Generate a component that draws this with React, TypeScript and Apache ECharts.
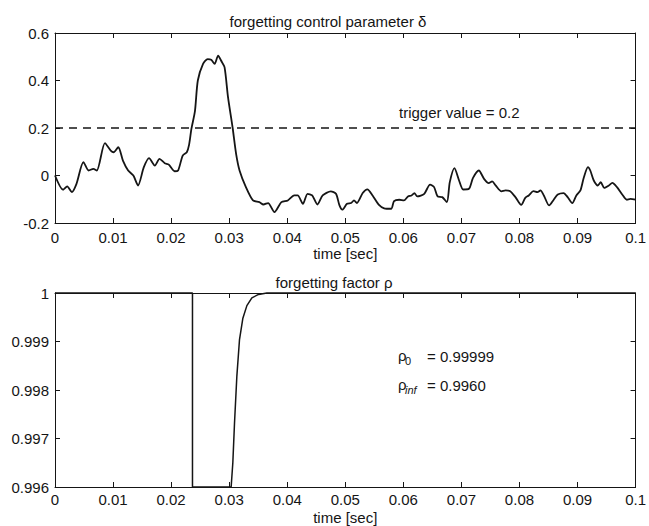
import React, { useEffect, useRef } from "react";
import * as echarts from "echarts";

// top panel: forgetting control parameter delta
const deltaT = [
  0, 0.0014, 0.0021, 0.0029, 0.0037, 0.0049, 0.0058, 0.0066, 0.0072, 0.0086, 0.0096, 0.0101, 0.0109,
  0.0117, 0.0126, 0.0135, 0.0143, 0.0153, 0.0162, 0.0172, 0.018, 0.0189, 0.0196, 0.0206, 0.0212,
  0.022, 0.0227, 0.0231, 0.0235, 0.0241, 0.0246, 0.0255, 0.0263, 0.0269, 0.0275, 0.0281, 0.0286,
  0.0292, 0.0298, 0.0306, 0.0312, 0.0318, 0.0329, 0.0341, 0.0352, 0.0359, 0.0367, 0.0378, 0.039,
  0.0401, 0.0412, 0.0418, 0.0427, 0.0435, 0.0443, 0.0452, 0.0461, 0.0475, 0.0484, 0.049, 0.0495,
  0.0503, 0.051, 0.0515, 0.052, 0.053, 0.0538, 0.0547, 0.0558, 0.0567, 0.0579, 0.0584, 0.0593,
  0.0601, 0.0608, 0.0614, 0.0619, 0.0624, 0.0636, 0.0646, 0.0653, 0.0659, 0.0667, 0.0675, 0.068,
  0.0688, 0.0696, 0.0703, 0.0713, 0.072, 0.073, 0.0739, 0.0747, 0.0753, 0.0759, 0.0769, 0.0776,
  0.0784, 0.0793, 0.0803, 0.081, 0.0816, 0.0824, 0.0831, 0.0836, 0.0842, 0.0851, 0.0859, 0.0866,
  0.0876, 0.0883, 0.0891, 0.0898, 0.0905, 0.0911, 0.0918, 0.0922, 0.0928, 0.0935, 0.094, 0.0946,
  0.0954, 0.096, 0.0968, 0.0977, 0.0985, 0.0991, 0.1,
];
const deltaV = [
  0.0, -0.06, -0.046, -0.07, -0.035, 0.056, 0.021, 0.028, 0.021, 0.136, 0.105, 0.098, 0.119,
  0.063, 0.021, 0.0, -0.042, 0.035, 0.073, 0.042, 0.07, 0.052, 0.046, 0.018, 0.021,
  0.084, 0.098, 0.13, 0.197, 0.27, 0.4, 0.47, 0.49, 0.487, 0.47, 0.505, 0.484,
  0.456, 0.33, 0.2, 0.09, 0.02, -0.05, -0.105, -0.112, -0.122, -0.116, -0.154, -0.112,
  -0.105, -0.084, -0.084, -0.119, -0.077, -0.084, -0.122, -0.084, -0.067, -0.077, -0.126, -0.144,
  -0.119, -0.116, -0.105, -0.116, -0.074, -0.058, -0.084, -0.124, -0.138, -0.14, -0.108, -0.102,
  -0.105, -0.088, -0.084, -0.074, -0.088, -0.077, -0.038, -0.049, -0.088, -0.091, -0.112, -0.028,
  0.031, -0.021, -0.059, -0.056, -0.01, 0.021, -0.014, -0.032, -0.025, -0.042, -0.067, -0.063,
  -0.066, -0.091, -0.124, -0.094, -0.084, -0.066, -0.07, -0.063, -0.084, -0.126, -0.102, -0.08,
  -0.074, -0.091, -0.116, -0.084, -0.063, -0.007, 0.035, 0.021, -0.021, -0.042, -0.028, -0.052,
  -0.042, -0.031, -0.049, -0.08, -0.102, -0.098, -0.102,
];
const triggerValue = 0.2;

// bottom panel: forgetting factor rho
const rhoT = [0, 0.02368, 0.02368, 0.03034, 0.03063, 0.03092, 0.03132, 0.03178, 0.03236, 0.03305, 0.03391, 0.03506, 0.0365, 0.1];
const rhoV = [1, 1, 0.996, 0.996, 0.9965, 0.99732, 0.99828, 0.99904, 0.99948, 0.99974, 0.9999, 0.99997, 1, 1];

const xTickInterval = 0.01;
const topYRange = { min: -0.2, max: 0.6, interval: 0.2 };
const botYRange = { min: 0.996, max: 1, interval: 0.001 };

const FONT = "Liberation Sans, Arial, Helvetica, sans-serif";
const INK = "#151515";

export default function App() {
  const ref = useRef<HTMLDivElement>(null);
  useEffect(() => {
    if (!ref.current) return;
    const chart = echarts.init(ref.current, undefined, { renderer: "svg" });
    const axisLine = { show: true, onZero: false, lineStyle: { color: INK, width: 1 } };
    const tick = { show: true, inside: true, length: 5, lineStyle: { color: INK, width: 1 } };
    const lbl = (margin: number) => ({ show: true, color: INK, fontSize: 15, fontFamily: FONT, margin });
    const xBase = (gridIndex: number, position: string, labels: boolean, margin: number) => ({
      type: "value",
      gridIndex,
      position,
      min: 0,
      max: 0.1,
      interval: xTickInterval,
      axisLine,
      axisTick: tick,
      axisLabel: labels ? lbl(margin) : { show: false },
      splitLine: { show: false },
      name: labels ? "time [sec]" : "",
      nameLocation: "middle",
      nameGap: gridIndex === 0 ? 21 : 23,
      nameTextStyle: { color: INK, fontSize: 15, fontFamily: FONT, verticalAlign: "top" },
    });
    const yBase = (gridIndex: number, position: string, labels: boolean, r: any) => ({
      type: "value",
      gridIndex,
      position,
      min: r.min,
      max: r.max,
      interval: r.interval,
      axisLine,
      axisTick: tick,
      axisLabel: labels ? lbl(6) : { show: false },
      splitLine: { show: false },
    });
    chart.setOption({
      animation: false,
      backgroundColor: "#ffffff",
      grid: [
        { left: 55, top: 33, width: 582, height: 190 },
        { left: 55, top: 293, width: 581, height: 194 },
      ],
      xAxis: [
        xBase(0, "bottom", true, 7),
        xBase(0, "top", false, 0),
        xBase(1, "bottom", true, 5),
        xBase(1, "top", false, 0),
      ],
      yAxis: [
        yBase(0, "left", true, topYRange),
        yBase(0, "right", false, topYRange),
        yBase(1, "left", true, botYRange),
        yBase(1, "right", false, botYRange),
      ],
      series: [
        {
          type: "line",
          xAxisIndex: 0,
          yAxisIndex: 0,
          data: deltaT.map((t, i) => [t, deltaV[i]]),
          showSymbol: false,
          smooth: 0.25,
          lineStyle: { color: INK, width: 1.8 },
          clip: false,
        },
        {
          type: "line",
          xAxisIndex: 0,
          yAxisIndex: 0,
          data: [
            [0, triggerValue],
            [0.1, triggerValue],
          ],
          showSymbol: false,
          lineStyle: { color: INK, width: 1.5, type: [8, 6] },
        },
        {
          type: "line",
          xAxisIndex: 2,
          yAxisIndex: 2,
          data: rhoT.map((t, i) => [t, rhoV[i]]),
          showSymbol: false,
          lineStyle: { color: INK, width: 1.5 },
          clip: false,
        },
      ],
      graphic: [
        {
          type: "text",
          x: 328,
          y: 21,
          style: { text: "forgetting control parameter δ", fill: INK, font: `15px ${FONT}`, textAlign: "center", textVerticalAlign: "middle" },
        },
        {
          type: "text",
          x: 334,
          y: 282,
          style: { text: "forgetting factor ρ", fill: INK, font: `15px ${FONT}`, textAlign: "center", textVerticalAlign: "middle" },
        },
        {
          type: "text",
          x: 399,
          y: 112.5,
          style: { text: "trigger value = 0.2", fill: INK, font: `15px ${FONT}`, textAlign: "left", textVerticalAlign: "middle" },
        },
        { type: "text", x: 398, y: 355, style: { text: "ρ", fill: INK, font: `15px ${FONT}`, textVerticalAlign: "middle" } },
        { type: "text", x: 405, y: 361, style: { text: "0", fill: INK, font: `11px ${FONT}`, textVerticalAlign: "middle" } },
        { type: "text", x: 427, y: 356, style: { text: "= 0.99999", fill: INK, font: `15px ${FONT}`, textVerticalAlign: "middle" } },
        { type: "text", x: 398, y: 384, style: { text: "ρ", fill: INK, font: `15px ${FONT}`, textVerticalAlign: "middle" } },
        { type: "text", x: 405, y: 390, style: { text: "inf", fill: INK, font: `italic 11px ${FONT}`, textVerticalAlign: "middle" } },
        { type: "text", x: 427, y: 385, style: { text: "= 0.9960", fill: INK, font: `15px ${FONT}`, textVerticalAlign: "middle" } },
      ],
    });
    return () => chart.dispose();
  }, []);
  return (
    <div
      ref={ref}
      style={{ position: "fixed", left: 0, top: 0, width: 649, height: 526, background: "#fff" }}
    />
  );
}
